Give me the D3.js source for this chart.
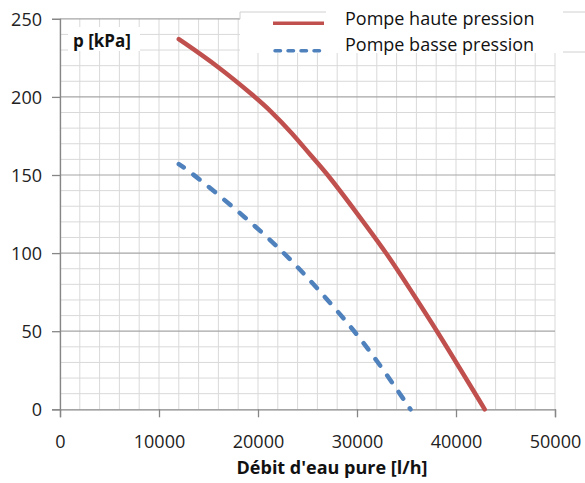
<!DOCTYPE html>
<html><head><meta charset="utf-8">
<script src="https://cdn.jsdelivr.net/npm/d3@7"></script>
<style>
body{margin:0;background:#fff;}
svg{display:block;font-family:"Open Sans",sans-serif;}
</style></head>
<body><svg id="c" width="585" height="483"></svg>
<script>
const xTicks=[0,10000,20000,30000,40000,50000];
const yTicks=[0,50,100,150,200,250];
const seriesNames=["Pompe haute pression","Pompe basse pression"];
const hauteX=[12000,16000,19700,21200,23500,25250,27100,30000,33000,35550,38100,40500,42900];
const hauteY=[237,219.5,200,191.6,176.5,163,150,125.5,100,75,50,25,0];
const basseX=[12000,13600,18900,22700,26000,29800,32600,35400];
const basseY=[157,150,122,100,77.5,50,26,0];
const xTitle="Débit d'eau pure [l/h]";
const yTitle="p [kPa]";

const svg=d3.select("#c");
const x=d3.scaleLinear().domain([0,50000]).range([60,555]);
const y=d3.scaleLinear().domain([0,250]).range([409.3,18.8]);

// minor grid
const g=svg.append("g");
g.selectAll(".vx").data(d3.range(0,50001,2000)).join("line")
 .attr("x1",d=>x(d)).attr("x2",d=>x(d)).attr("y1",y(250)).attr("y2",y(0))
 .attr("stroke","#d9d9d9").attr("stroke-width",1);
g.selectAll(".hy").data(d3.range(0,251,10).filter(v=>v%50)).join("line")
 .attr("x1",x(0)).attr("x2",x(50000)).attr("y1",d=>y(d)).attr("y2",d=>y(d))
 .attr("stroke","#d9d9d9").attr("stroke-width",1);
g.selectAll(".hm").data(yTicks.filter(v=>v>0)).join("line")
 .attr("x1",x(0)).attr("x2",x(50000)).attr("y1",d=>y(d)).attr("y2",d=>y(d))
 .attr("stroke","#a6a6a6").attr("stroke-width",1.2);

// axes
const ax=svg.append("g").attr("transform",`translate(0,${y(0)})`)
 .call(d3.axisBottom(x).tickValues(xTicks).tickFormat(d3.format("d")).tickSize(8).tickPadding(24));
ax.select(".domain").attr("stroke","#868686").attr("stroke-width",1.3);
ax.selectAll(".tick line").attr("stroke","#868686").attr("stroke-width",1.3);
ax.selectAll(".tick text").attr("font-family","Open Sans").attr("font-size",18).attr("fill","#222").attr("dy","0.35em");

const ay=svg.append("g").attr("transform",`translate(${x(0)},0)`)
 .call(d3.axisLeft(y).tickValues(yTicks).tickSize(8).tickPadding(10));
ay.select(".domain").attr("stroke","#868686").attr("stroke-width",1.3);
ay.selectAll(".tick line").attr("stroke","#868686").attr("stroke-width",1.3);
ay.selectAll(".tick text").attr("font-family","Open Sans").attr("font-size",18).attr("fill","#222").attr("dy","0.35em");

// y title box
svg.append("rect").attr("x",68).attr("y",27).attr("width",72).attr("height",24).attr("fill","#fff");
svg.append("text").attr("x",73).attr("y",47).attr("font-size",17).attr("font-weight","bold").attr("fill","#111").text(yTitle);

// series
const line=d3.line().x(d=>x(d[0])).y(d=>y(d[1])).curve(d3.curveBasis);
const hd=d3.zip(hauteX,hauteY), bd=d3.zip(basseX,basseY);
svg.append("path").attr("d",line(hd)).attr("fill","none").attr("stroke","#C0504D").attr("stroke-width",4.5).attr("stroke-linecap","round");
svg.append("path").attr("d",line(bd)).attr("fill","none").attr("stroke","#4F81BD").attr("stroke-width",4.5).attr("stroke-linecap","round").attr("stroke-dasharray","8,12").attr("stroke-dashoffset",2);

// legend
svg.append("rect").attr("x",240).attr("y",12).attr("width",360).attr("height",41).attr("fill","#fff");
const lg=svg.append("g").attr("stroke","#d0d0d0").attr("stroke-width",1);
lg.append("line").attr("x1",240).attr("x2",326).attr("y1",12).attr("y2",12);
lg.append("line").attr("x1",240).attr("x2",240).attr("y1",12).attr("y2",19);
lg.append("line").attr("x1",563).attr("x2",585).attr("y1",12).attr("y2",12);
lg.append("line").attr("x1",563).attr("x2",585).attr("y1",52).attr("y2",52);
svg.append("line").attr("x1",273).attr("x2",324).attr("y1",23.3).attr("y2",23.3).attr("stroke","#C0504D").attr("stroke-width",3.5);
svg.append("line").attr("x1",275).attr("x2",322).attr("y1",50.7).attr("y2",50.7).attr("stroke","#4F81BD").attr("stroke-width",3.5).attr("stroke-linecap","round").attr("stroke-dasharray","5.5,7.5");
svg.selectAll(".lt").data(seriesNames).join("text")
 .attr("x",345).attr("y",(d,i)=>25+i*25.5).attr("font-size",18).attr("fill","#111").text(d=>d);

// x title
svg.append("text").attr("x",332).attr("y",474).attr("text-anchor","middle").attr("font-size",18).attr("font-weight","bold").attr("fill","#111").text(xTitle);
</script></body></html>
